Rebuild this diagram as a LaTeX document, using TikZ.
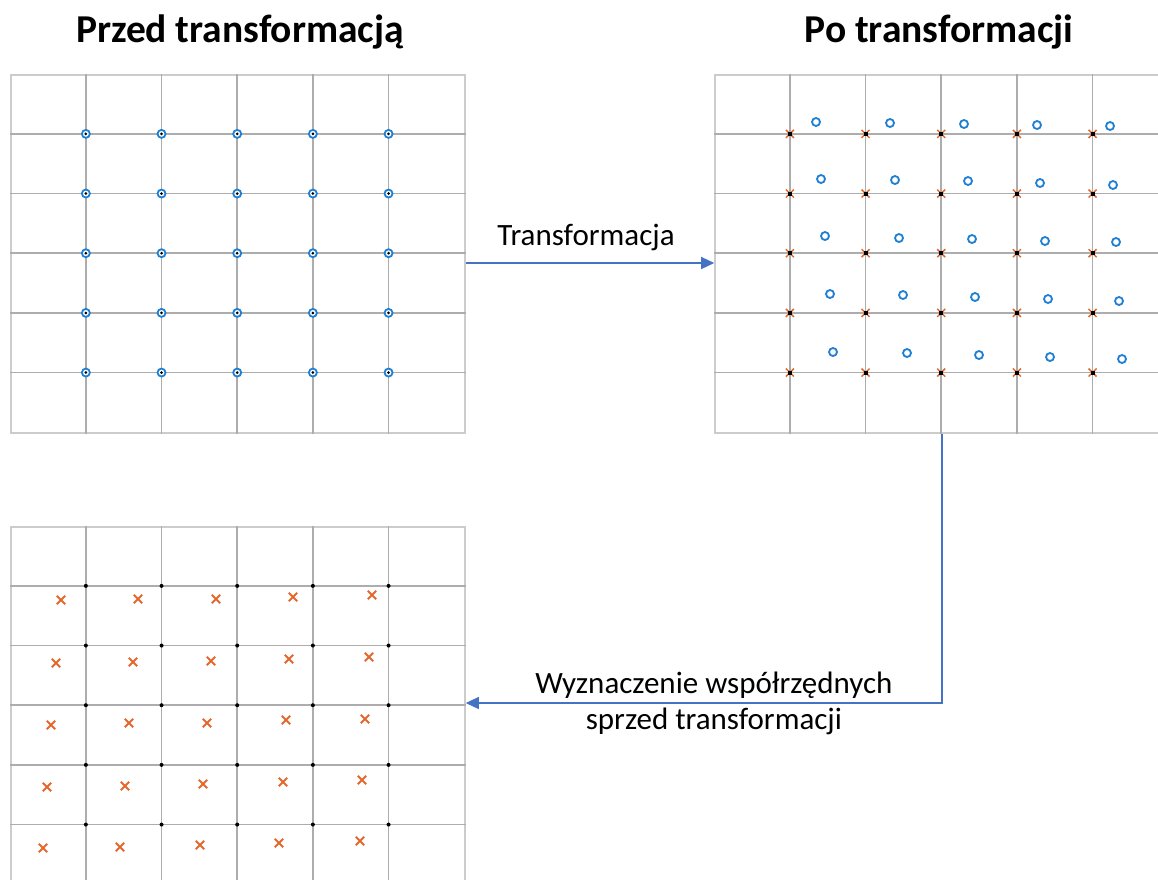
\documentclass[tikz,border=0pt]{standalone}
\usepackage{fontspec}
\setmainfont{Carlito}
\usetikzlibrary{arrows.meta, shapes.misc}

\definecolor{gridgray}{HTML}{ADADAD}
\definecolor{edgegray}{HTML}{CCCCCC}
\definecolor{ptblue}{HTML}{1F7FD3}
\definecolor{ptorange}{HTML}{E4682C}
\definecolor{arrowblue}{HTML}{4472C4}

\begin{document}
\begin{tikzpicture}[x=1pt,y=-1pt]
\tikzstyle{panel}=[draw=edgegray, line width=1.6pt, minimum width=454pt, minimum height=358pt, inner sep=0pt]
\tikzstyle{cell}=[draw=gridgray, line width=1.5pt]
\tikzstyle{title}=[anchor=base, font=\bfseries\fontsize{39.5}{46}\selectfont]
\tikzstyle{conn}=[draw=arrowblue, line width=1.3pt, -{Triangle[length=13pt,width=12pt]}]
\tikzstyle{origpt}=[circle, draw=ptblue, fill=white, line width=1.8pt, inner sep=0pt, minimum size=8pt]
\tikzstyle{newpt}=[circle, draw=ptblue, line width=1.8pt, inner sep=0pt, minimum size=8pt]
\tikzstyle{xmark}=[cross out, draw=ptorange, line width=1.5pt, inner sep=0pt, minimum size=6.5pt]
\tikzstyle{backpt}=[cross out, draw=ptorange, line width=1.9pt, inner sep=0pt, minimum size=6.5pt]

\useasboundingbox (0,0) rectangle (1158,879);

% the three panels
\node (before) at (238,254) [panel] {};
\node (after) at (942,254) [panel] {};
\node (recover) at (238,706) [panel] {};

\foreach \p in {before,after,recover}{
  \foreach \k in {1,...,5}{
    \draw[cell] ([xshift=\k*75.67pt]\p.north west) -- ([xshift=\k*75.67pt]\p.south west);
    \draw[cell] ([yshift=-\k*59.67pt]\p.north west) -- ([yshift=-\k*59.67pt]\p.north east);
  }
}

\node (h1) at (240,42) [title] {Przed transformacją};
\node (h2) at (939,42) [title] {Po transformacji};

% points on the grid nodes
\foreach \i in {1,...,5}{
  \foreach \j in {1,...,5}{
    \node (o-\i-\j) at ([xshift=\j*75.67pt, yshift=-\i*59.67pt]before.north west) [origpt] {};
    \fill (o-\i-\j) circle (1.5pt);
    \node (m-\i-\j) at ([xshift=\j*75.67pt, yshift=-\i*59.67pt]after.north west) [xmark] {};
    \fill (m-\i-\j) ++(-2pt,-2pt) rectangle ++(4pt,4pt);
    \coordinate (r-\i-\j) at ([xshift=\j*75.67pt, yshift=-\i*59.67pt]recover.north west);
    \fill (r-\i-\j) circle (2pt);
  }
}

% transformed points
\foreach \x/\y [count=\n] in {816/122, 890/123, 964/124, 1037/125, 1110/126,
  821/179, 895/180, 968/181, 1040/183, 1113/185,
  825/236, 899/238, 972/239, 1045/241, 1116/242,
  830/294, 903/295, 975/297, 1048/299, 1119/301,
  833/352, 907/353, 979/355, 1050/357, 1122/359}
  \node (t\n) at (\x,\y) [newpt] {};

% coordinates taken back
\foreach \x/\y [count=\n] in {61/600, 138/599, 216/599, 293/597, 372/595,
  56/663, 133/662, 211/661, 289/659, 369/657,
  51/725, 129/723, 207/723, 286/720, 365/719,
  47/787, 125/786, 203/784, 283/782, 362/780,
  43/848, 120/847, 200/845, 279/843, 360/841}
  \node (b\n) at (\x,\y) [backpt] {};

\draw[conn] ([yshift=-9pt]before.east) -- node[midway, anchor=base, yshift=18pt, xshift=-4pt, font=\fontsize{31}{36}\selectfont] {Transformacja} ([yshift=-9pt]after.west);
\draw[conn] (after.south) |- node[pos=0.75, xshift=10pt, align=center, font=\fontsize{31}{36}\selectfont] {Wyznaczenie współrzędnych\\sprzed transformacji} ([yshift=3pt]recover.east);
\end{tikzpicture}
\end{document}
